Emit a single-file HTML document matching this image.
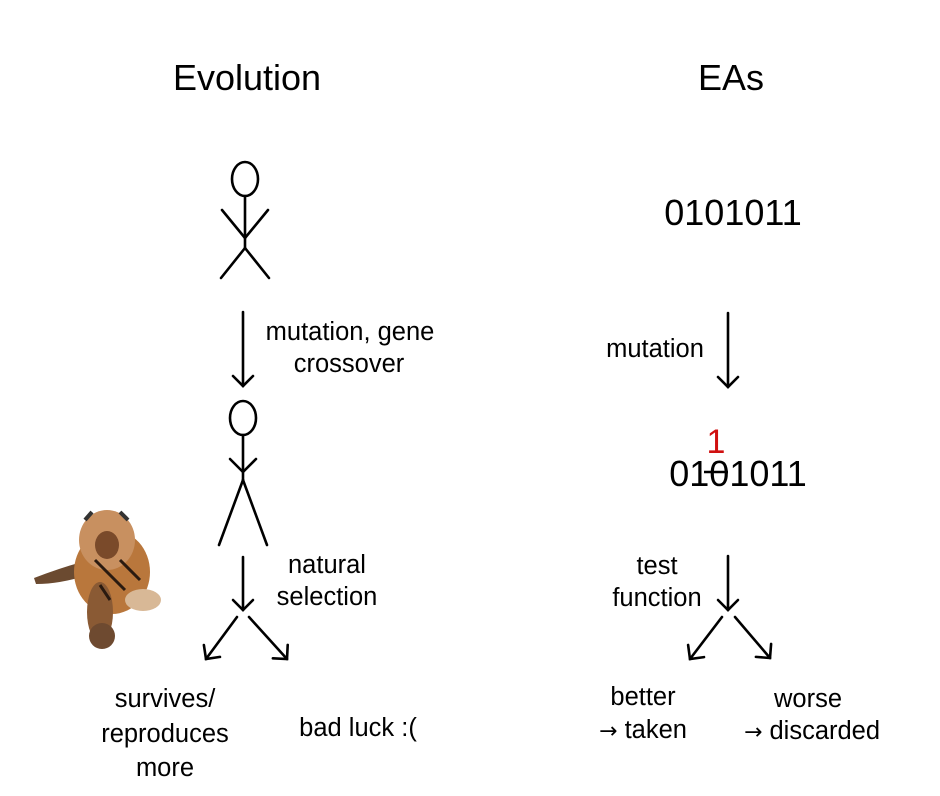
<!DOCTYPE html>
<html><head><meta charset="utf-8"><style>
html,body{margin:0;padding:0;background:#fff;}
svg{display:block;font-family:"Liberation Sans",Arial,sans-serif;}
.ar{font-family:"DejaVu Sans",sans-serif;font-size:22px;}
</style></head><body>
<svg width="940" height="796" viewBox="0 0 940 796" xmlns="http://www.w3.org/2000/svg">
<defs>
<marker id="ah" markerWidth="30" markerHeight="30" refX="12" refY="12" orient="auto" markerUnits="userSpaceOnUse">
<path d="M2,2 L12,12 L2,22" fill="none" stroke="#000" stroke-width="2.6" stroke-linecap="round"/>
</marker>
</defs>
<g fill="#000" text-anchor="middle">
<text x="247" y="90" font-size="36">Evolution</text>
<text x="731" y="90" font-size="36">EAs</text>
</g>
<g stroke="#000" stroke-width="2.6" fill="none" stroke-linecap="round">
<ellipse cx="245" cy="179" rx="13" ry="17"/>
<line x1="245" y1="196" x2="245" y2="248"/>
<line x1="222" y1="210" x2="245" y2="238"/>
<line x1="268" y1="210" x2="245" y2="238"/>
<line x1="245" y1="248" x2="221" y2="278"/>
<line x1="245" y1="248" x2="269" y2="278"/>
<line x1="243" y1="312" x2="243" y2="386" marker-end="url(#ah)"/>
<ellipse cx="243" cy="418" rx="13" ry="17"/>
<line x1="243" y1="435" x2="243" y2="480"/>
<line x1="230" y1="459" x2="243" y2="472"/>
<line x1="256" y1="459" x2="243" y2="472"/>
<line x1="243" y1="480" x2="219" y2="545"/>
<line x1="243" y1="480" x2="267" y2="545"/>
<line x1="243" y1="557" x2="243" y2="610" marker-end="url(#ah)"/>
<line x1="237" y1="617" x2="206" y2="659" marker-end="url(#ah)"/>
<line x1="249" y1="617" x2="287" y2="659" marker-end="url(#ah)"/>
<line x1="728" y1="313" x2="728" y2="387" marker-end="url(#ah)"/>
<line x1="728" y1="556" x2="728" y2="610" marker-end="url(#ah)"/>
<line x1="722" y1="617" x2="690" y2="659" marker-end="url(#ah)"/>
<line x1="735" y1="617" x2="770" y2="658" marker-end="url(#ah)"/>
</g>
<g fill="#000" font-size="25.5" text-anchor="middle">
<text x="350" y="340">mutation, gene</text>
<text x="349" y="372">crossover</text>
<text x="327" y="573">natural</text>
<text x="327" y="605">selection</text>
<text x="165" y="707">survives/</text>
<text x="165" y="742">reproduces</text>
<text x="165" y="776">more</text>
<text x="358" y="736">bad luck :(</text>
<text x="655" y="357">mutation</text>
<text x="657" y="574">test</text>
<text x="657" y="606">function</text>
<text x="643" y="705">better</text>
<text x="643" y="738"><tspan class="ar">→</tspan> taken</text>
<text x="808" y="707">worse</text>
<text x="812" y="739"><tspan class="ar">→</tspan> discarded</text>
</g>
<text x="733" y="225" font-size="36" text-anchor="middle">0101011</text>
<text x="738" y="486" font-size="36" text-anchor="middle">0101011</text>
<line x1="704" y1="472" x2="728" y2="472" stroke="#000" stroke-width="2.6"/>
<text x="716" y="453" font-size="34" fill="#d01010" text-anchor="middle">1</text>
<g>
<path d="M34,578 Q60,568 82,562 L88,575 Q60,584 36,584 Z" fill="#6b4a30"/>
<ellipse cx="112" cy="572" rx="38" ry="42" fill="#b9773c"/>
<ellipse cx="107" cy="540" rx="28" ry="30" fill="#c89060"/>
<ellipse cx="107" cy="545" rx="12" ry="14" fill="#7a4a2a"/>
<ellipse cx="100" cy="612" rx="13" ry="30" fill="#8a5a34"/>
<ellipse cx="102" cy="636" rx="13" ry="13" fill="#6e4a30"/>
<ellipse cx="143" cy="600" rx="18" ry="11" fill="#d8b896"/>
<path d="M85,520 L92,512 M120,512 L128,520" stroke="#333" stroke-width="4"/>
<path d="M95,560 L125,590 M120,560 L140,580 M100,585 L110,600" stroke="#2a1a10" stroke-width="3"/>
</g>
</svg>
</body></html>
